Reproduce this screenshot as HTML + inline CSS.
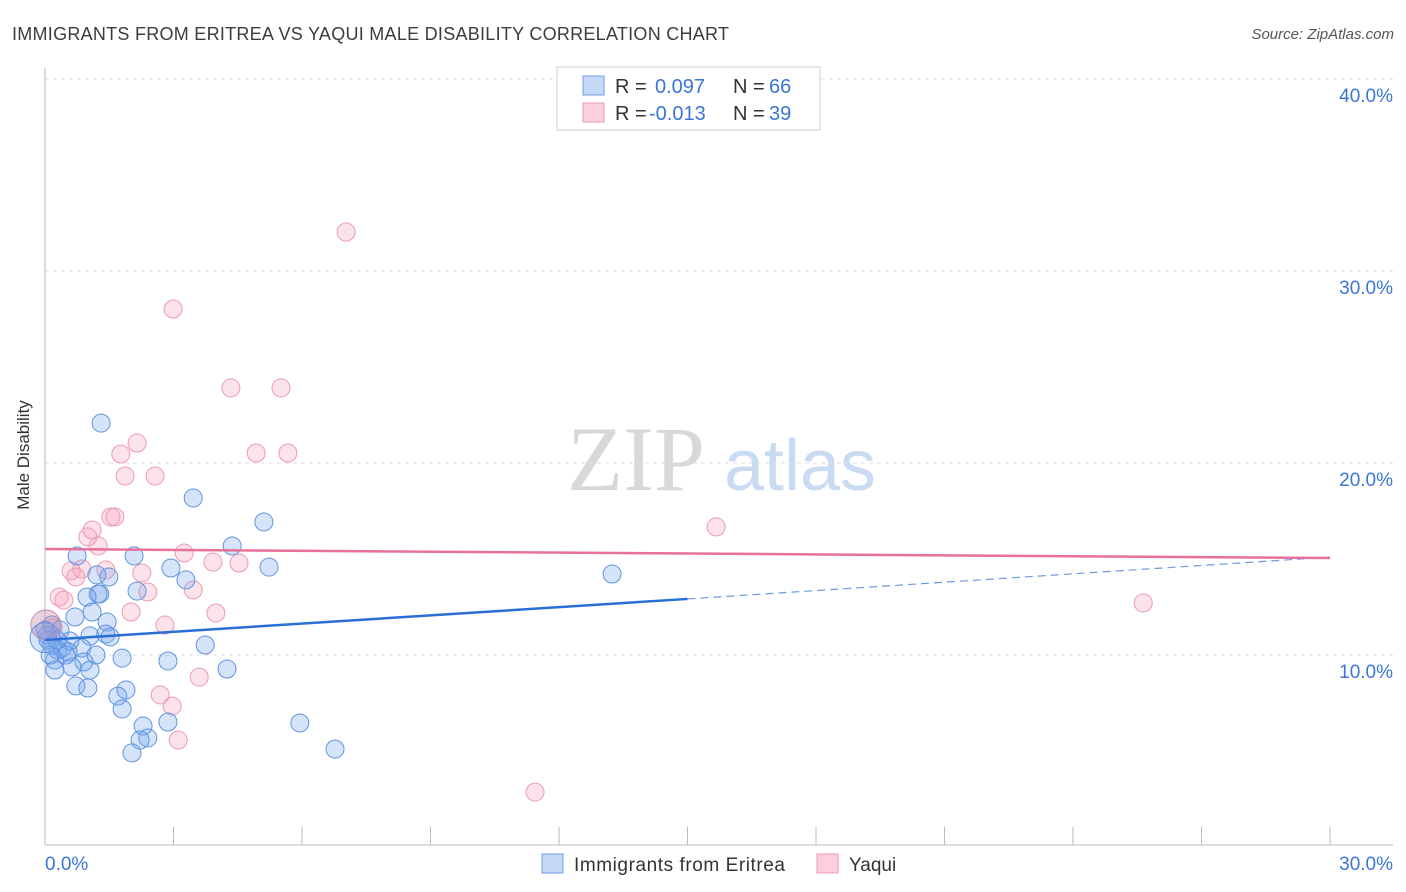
<!DOCTYPE html>
<html><head><meta charset="utf-8"><style>
body{margin:0;background:#fff;font-family:"Liberation Sans",sans-serif;}
#wrap{position:relative;width:1406px;height:892px;overflow:hidden;}
</style></head><body>
<div id="wrap">
<svg id="svg" width="1406" height="892" xmlns="http://www.w3.org/2000/svg">
<text x="12" y="40" font-size="18" fill="#3c3c3c" textLength="717">IMMIGRANTS FROM ERITREA VS YAQUI MALE DISABILITY CORRELATION CHART</text>
<text x="1394" y="39" font-size="15" fill="#555" font-style="italic" text-anchor="end">Source: ZipAtlas.com</text>
<text x="636" y="490" font-size="92" fill="#d8d8d8" font-family="Liberation Serif,serif" text-anchor="middle">ZIP</text>
<text x="800" y="490" font-size="72" fill="#c9daf3" text-anchor="middle">atlas</text>
<text x="29" y="455" font-size="17" fill="#333" text-anchor="middle" transform="rotate(-90 29 455)">Male Disability</text>
<g id="grid"></g><g id="pts"></g><g id="trend"></g>
<g>
<rect x="557" y="67" width="263" height="63" fill="#fff" stroke="#ccc"/>
<rect x="583" y="76" width="21" height="19" fill="#c5d9f7" stroke="#6d9ee8"/>
<rect x="583" y="103" width="21" height="19" fill="#fbd0dc" stroke="#ee99b2"/>
<text y="93" font-size="20" fill="#333"><tspan x="615">R = </tspan><tspan x="655" fill="#3b76d6">0.097</tspan><tspan x="733">N = </tspan><tspan x="769" fill="#3b76d6">66</tspan></text>
<text y="120" font-size="20" fill="#333"><tspan x="615">R = </tspan><tspan x="649" fill="#3b76d6">-0.013</tspan><tspan x="733">N = </tspan><tspan x="769" fill="#3b76d6">39</tspan></text>
</g>
<g>
<rect x="542" y="854" width="21" height="19" fill="#c5d9f7" stroke="#6d9ee8"/>
<text x="574" y="871" font-size="19" fill="#333" textLength="211">Immigrants from Eritrea</text>
<rect x="817" y="854" width="21" height="19" fill="#fbd0dc" stroke="#ee99b2"/>
<text x="849" y="871" font-size="19" fill="#333">Yaqui</text>
</g>
</svg>
</div>
<script>
const xTicks=[0,3,6,9,12,15,18,21,24,27,30];
const yTicks=[10,20,30,40];
const yTickLabels=["10.0%","20.0%","30.0%","40.0%"];
const xTickLabels=["0.0%","30.0%"];
const blueX=[1.31,3.46,5.11,4.37,2.08,0.75,2.94,5.23,3.29,1.21,1.49,1.28,1.24,0.98,2.15,1.10,0.70,1.45,0.16,0.35,1.05,1.42,0.07,0.58,0.86,3.74,0.30,0.49,0.23,0.91,1.80,2.87,0.63,1.05,0.23,4.25,0.72,1.00,1.89,1.70,1.80,2.29,2.87,5.95,2.40,2.22,2.03,6.77,13.24,0.05,0.16,0.40,0.54,0.12,1.19,1.52,0.0,0.28];
const blueY=[22.08,18.18,16.93,15.68,15.16,15.16,14.53,14.58,13.91,14.17,14.06,13.18,13.18,13.02,13.33,12.24,11.98,11.72,11.56,11.30,10.99,11.09,10.78,10.73,10.36,10.52,10.26,10.0,9.74,9.64,9.84,9.69,9.38,9.22,9.22,9.27,8.39,8.28,8.18,7.86,7.19,6.30,6.51,6.46,5.68,5.57,4.90,5.10,14.22,11.04,10.52,10.36,10.16,10.0,10.0,10.94,11.30,10.78];
const pinkX=[7.03,2.99,4.34,5.51,2.15,1.77,4.93,5.67,1.87,2.57,1.54,1.63,1.10,1.00,1.24,3.25,3.92,4.53,0.86,0.61,1.42,0.72,2.26,2.40,3.46,0.33,0.44,2.01,3.99,2.80,2.69,2.97,3.60,3.11,11.44,15.67,25.64,0.19];
const pinkY=[32.03,28.02,23.91,23.91,21.04,20.47,20.52,20.52,19.32,19.32,17.19,17.19,16.51,16.15,15.68,15.31,14.84,14.79,14.48,14.38,14.43,14.06,14.27,13.28,13.39,13.02,12.86,12.24,12.19,11.56,7.92,7.34,8.85,5.57,2.86,16.67,12.71,11.41];
const bigX=[0.02,0.0];
const bigY=[11.56,10.9];
const blueTrend=[10.78,12.92,15.1];
const pinkTrend=[15.52,15.05];
const NS="http://www.w3.org/2000/svg";
const sx=v=>45+v*1285/30;
const sy=v=>847-v*19.2;
function mk(tag,attrs,parent){const e=document.createElementNS(NS,tag);for(const k in attrs)e.setAttribute(k,attrs[k]);document.getElementById(parent).appendChild(e);return e;}
let e;
yTicks.forEach((t,i)=>{
 e=mk('line',{x1:45,x2:1393,y1:sy(t),y2:sy(t),stroke:'#ddd','stroke-dasharray':'4,4'},'grid');
 
 
 e=mk('text',{x:1393,y:sy(t)+23,'font-size':19,fill:'#3b76d6','text-anchor':'end'},'grid');
 e.textContent=yTickLabels[i];
 
 
});
e=mk('line',{x1:45,x2:45,y1:68,y2:845,stroke:'#bbb'},'grid');


e=mk('line',{x1:45,x2:1393,y1:845,y2:845,stroke:'#bbb'},'grid');


xTicks.forEach(t=>{
 e=mk('line',{x1:sx(t),x2:sx(t),y1:827,y2:845,stroke:'#bbb'},'grid');
 
 
});
e=mk('text',{x:45,y:870,'font-size':19,fill:'#3b76d6'},'grid');e.textContent=xTickLabels[0];


e=mk('text',{x:1393,y:870,'font-size':19,fill:'#3b76d6','text-anchor':'end'},'grid');e.textContent=xTickLabels[1];


pinkX.forEach((x,i)=>{
 e=mk('circle',{cx:sx(x),cy:sy(pinkY[i]),r:9,fill:'rgba(244,160,185,0.3)',stroke:'#ee9ab3','stroke-width':1},'pts');
 
 
});
blueX.forEach((x,i)=>{
 e=mk('circle',{cx:sx(x),cy:sy(blueY[i]),r:9,fill:'rgba(120,165,235,0.3)',stroke:'#5f93e0','stroke-width':1},'pts');
 
 
});
bigX.forEach((x,i)=>{
 e=mk('circle',{cx:sx(x),cy:sy(bigY[i]),r:15,fill:i?'rgba(120,165,235,0.3)':'rgba(200,140,170,0.4)',stroke:i?'#5f93e0':'#c98aa8','stroke-width':1},'pts');
 
 
});
e=mk('line',{x1:sx(0),y1:sy(blueTrend[0]),x2:sx(15),y2:sy(blueTrend[1]),stroke:'#2a6fd6','stroke-width':2.5},'trend');


e=mk('line',{x1:sx(15),y1:sy(blueTrend[1]),x2:sx(30),y2:sy(blueTrend[2]),stroke:'#6a9ae0','stroke-width':1.2,'stroke-dasharray':'8,5'},'trend');


e=mk('line',{x1:sx(0),y1:sy(pinkTrend[0]),x2:sx(30),y2:sy(pinkTrend[1]),stroke:'#e8719a','stroke-width':2.5},'trend');


</script>
</body></html>
